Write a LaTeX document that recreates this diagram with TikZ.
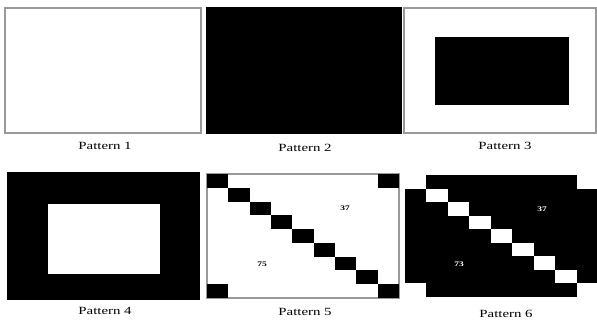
\documentclass[tikz,border=0pt]{standalone}
\usepackage{fontspec}
\setmainfont{Liberation Serif}
\usetikzlibrary{positioning}
\newcommand{\wide}[1]{\scalebox{1.35}[1]{#1}}
\tikzset{
  frame/.style={draw=black!40, line width=1.2pt},
  caption/.style={font=\fontsize{11}{13}\selectfont, inner sep=1pt},
  count/.style={font=\fontsize{7}{8}\selectfont\bfseries, inner sep=0pt},
}

\begin{document}
\begin{tikzpicture}[x=1pt,y=-1pt]
\useasboundingbox (0,0) rectangle (597,324);
% Pattern 1: empty frame
\draw[frame] (5,8) rectangle (201,133);
\node[caption] (cap1) at (105,146) {\wide{Pattern 1}};
% Pattern 2: all black
\fill (206,7) rectangle (402,134);
\node[caption] (cap2) at (305,148) {\wide{Pattern 2}};
% Pattern 3: black block inside frame
\draw[frame] (404,8) rectangle (596,133);
\fill (435,37) rectangle (569,105);
\node[caption] (cap3) at (505,146) {\wide{Pattern 3}};
% Pattern 4: black with white hole
\fill (7,172) rectangle (200,300);
\fill[white] (48,204) rectangle (160,274);
\node[caption] (cap4) at (105,311) {\wide{Pattern 4}};
% Pattern 5: black diagonal on white
\pgfmathsetmacro{\cw}{(399-207)/9}
\pgfmathsetmacro{\ch}{(298-174)/9}
\draw[frame] (207,174) rectangle (399,298);
\foreach \i in {0,...,8} {
  \fill ({207+\i*\cw},{174+\i*\ch}) rectangle ++(\cw,\ch);
}
\fill ({207+8*\cw},174) rectangle ++(\cw,\ch);
\fill (207,{174+8*\ch}) rectangle ++(\cw,\ch);
\node[count] (up5) at (345,208) {\wide{37}};
\node[count] (lo5) at (262,264) {\wide{75}};
\node[caption] (cap5) at (305,312) {\wide{Pattern 5}};
% Pattern 6: white diagonal on black
\pgfmathsetmacro{\dw}{(598-405)/9}
\pgfmathsetmacro{\dh}{(297-175)/9}
\fill (405,175) rectangle (598,297);
\foreach \i in {0,...,8} {
  \fill[white] ({405+\i*\dw},{175+\i*\dh}) rectangle ++(\dw,\dh);
}
\fill[white] ({405+8*\dw},175) rectangle ++(\dw,\dh);
\fill[white] (405,{175+8*\dh}) rectangle ++(\dw,\dh);
\node[count, white] (up6) at (542,209) {\wide{37}};
\node[count, white] (lo6) at (459,264) {\wide{73}};
\node[caption] (cap6) at (506,314) {\wide{Pattern 6}};
\end{tikzpicture}
\end{document}
